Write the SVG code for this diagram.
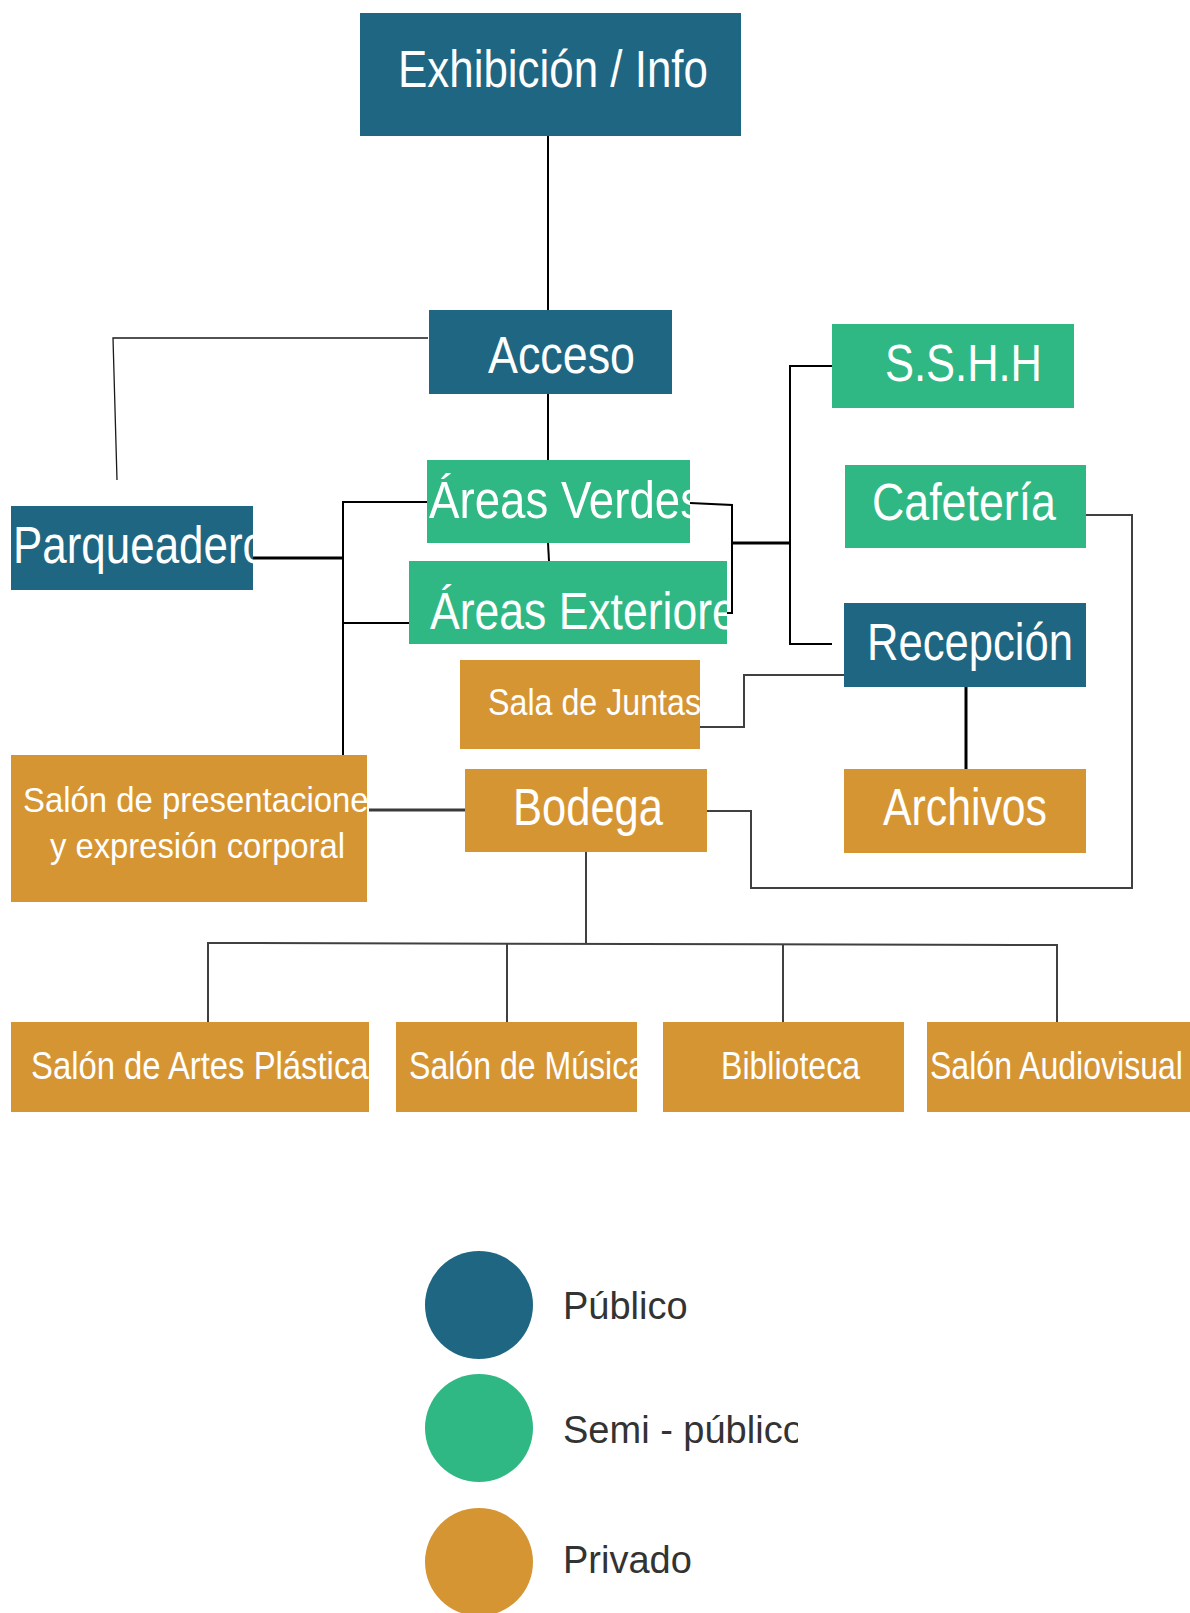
<svg xmlns="http://www.w3.org/2000/svg" width="1190" height="1613" viewBox="0 0 1190 1613">
<style>
.pub{fill:#1e6682}
.semi{fill:#2fb884}
.priv{fill:#d69533}
.t{font-family:"Liberation Sans",Arial,sans-serif;fill:#ffffff}
.big{font-size:51px}
.mid{font-size:38px}
.sm{font-size:36px}
.lg{font-family:"Liberation Sans",Arial,sans-serif;font-size:38px;fill:#333333}
.k{fill:none;stroke:#000;stroke-width:2}
.kt{fill:none;stroke:#000;stroke-width:3}
.kh{fill:none;stroke:#1a1a1a;stroke-width:1.3}
.g{fill:none;stroke:#404040;stroke-width:2}
.gt{fill:none;stroke:#3a3a3a;stroke-width:3}
</style>
<defs>
<clipPath id="cpParq"><rect x="11" y="506" width="242" height="84"/></clipPath>
<clipPath id="cpVer"><rect x="427" y="460" width="263" height="83"/></clipPath>
<clipPath id="cpExt"><rect x="409" y="561" width="318" height="83"/></clipPath>
<clipPath id="cpSala"><rect x="460" y="660" width="240" height="89"/></clipPath>
<clipPath id="cpPres"><rect x="11" y="755" width="356" height="147"/></clipPath>
<clipPath id="cpArt"><rect x="11" y="1022" width="358" height="90"/></clipPath>
<clipPath id="cpMus"><rect x="396" y="1022" width="241" height="90"/></clipPath>
<clipPath id="cpLeg"><rect x="0" y="1380" width="798" height="100"/></clipPath>
</defs>

<g id="connectors">
<line class="k" x1="548" y1="136" x2="548" y2="322"/>
<polyline class="kh" points="428,338 113,338 117,480"/>
<line class="k" x1="548" y1="394" x2="548" y2="462"/>
<line class="k" x1="548" y1="543" x2="549" y2="561"/>
<line class="kt" x1="253" y1="558" x2="343" y2="558"/>
<polyline class="k" points="427,502 343,502 343,755"/>
<line class="k" x1="343" y1="623" x2="409" y2="623"/>
<polyline class="k" points="690,503 732,505 732,613 727,613"/>
<line class="kt" x1="732" y1="543" x2="790" y2="543"/>
<polyline class="k" points="832,366 790,366 790,644 832,644"/>
<polyline class="g" points="700,727 744,727 744,675 844,675"/>
<line class="kt" x1="966" y1="687" x2="966" y2="769"/>
<polyline class="g" points="1086,515 1132,515 1132,888 751,888 751,811 707,811"/>
<line class="gt" x1="369" y1="810" x2="465" y2="810"/>
<line class="g" x1="586" y1="852" x2="586" y2="943"/>
<polyline class="g" points="208,1022 208,943 1057,945 1057,1022"/>
<line class="g" x1="507" y1="943" x2="507" y2="1022"/>
<line class="g" x1="783" y1="944" x2="783" y2="1022"/>
</g>

<g id="exhibicion">
<rect class="pub" x="360" y="13" width="381" height="123"/>
<text class="t big" x="398" y="87" textLength="310" lengthAdjust="spacingAndGlyphs">Exhibición / Info</text>
</g>
<g id="acceso">
<rect class="pub" x="429" y="310" width="243" height="84"/>
<text class="t big" x="488" y="373" textLength="147" lengthAdjust="spacingAndGlyphs">Acceso</text>
</g>
<g id="sshh">
<rect class="semi" x="832" y="324" width="242" height="84"/>
<text class="t big" x="885" y="381" textLength="157" lengthAdjust="spacingAndGlyphs">S.S.H.H</text>
</g>
<g id="areas-verdes" clip-path="url(#cpVer)">
<rect class="semi" x="427" y="460" width="263" height="83"/>
<text class="t big" x="429" y="518" textLength="274" lengthAdjust="spacingAndGlyphs">Áreas Verdes</text>
</g>
<g id="cafeteria">
<rect class="semi" x="845" y="465" width="241" height="83"/>
<text class="t big" x="872" y="520" textLength="184" lengthAdjust="spacingAndGlyphs">Cafetería</text>
</g>
<g id="parqueadero" clip-path="url(#cpParq)">
<rect class="pub" x="11" y="506" width="242" height="84"/>
<text class="t big" x="13" y="563" textLength="254" lengthAdjust="spacingAndGlyphs">Parqueadero</text>
</g>
<g id="areas-exteriores" clip-path="url(#cpExt)">
<rect class="semi" x="409" y="561" width="318" height="83"/>
<text class="t big" x="430" y="629" textLength="329" lengthAdjust="spacingAndGlyphs">Áreas Exteriores</text>
</g>
<g id="recepcion">
<rect class="pub" x="844" y="603" width="242" height="84"/>
<text class="t big" x="867" y="660" textLength="206" lengthAdjust="spacingAndGlyphs">Recepción</text>
</g>
<g id="sala-juntas" clip-path="url(#cpSala)">
<rect class="priv" x="460" y="660" width="240" height="89"/>
<text class="t" style="font-size:37px" x="488" y="715" textLength="213" lengthAdjust="spacingAndGlyphs">Sala de Juntas</text>
</g>
<g id="salon-presentaciones" clip-path="url(#cpPres)">
<rect class="priv" x="11" y="755" width="356" height="147"/>
<text class="t" style="font-size:35px" x="23" y="812" textLength="362" lengthAdjust="spacingAndGlyphs">Salón de presentaciones</text>
<text class="t" style="font-size:35px" x="50" y="858" textLength="295" lengthAdjust="spacingAndGlyphs">y expresión corporal</text>
</g>
<g id="bodega">
<rect class="priv" x="465" y="769" width="242" height="83"/>
<text class="t big" x="513" y="825" textLength="150" lengthAdjust="spacingAndGlyphs">Bodega</text>
</g>
<g id="archivos">
<rect class="priv" x="844" y="769" width="242" height="84"/>
<text class="t big" x="883" y="825" textLength="164" lengthAdjust="spacingAndGlyphs">Archivos</text>
</g>
<g id="salon-artes" clip-path="url(#cpArt)">
<rect class="priv" x="11" y="1022" width="358" height="90"/>
<text class="t mid" x="31" y="1079" textLength="354" lengthAdjust="spacingAndGlyphs">Salón de Artes Plásticas</text>
</g>
<g id="salon-musica" clip-path="url(#cpMus)">
<rect class="priv" x="396" y="1022" width="241" height="90"/>
<text class="t mid" x="409" y="1079" textLength="237" lengthAdjust="spacingAndGlyphs">Salón de Música</text>
</g>
<g id="biblioteca">
<rect class="priv" x="663" y="1022" width="241" height="90"/>
<text class="t mid" x="721" y="1079" textLength="139" lengthAdjust="spacingAndGlyphs">Biblioteca</text>
</g>
<g id="salon-audiovisual">
<rect class="priv" x="927" y="1022" width="263" height="90"/>
<text class="t mid" x="930" y="1079" textLength="253" lengthAdjust="spacingAndGlyphs">Salón Audiovisual</text>
</g>

<g id="legend">
<circle class="pub" cx="479" cy="1305" r="54"/>
<text class="lg" x="563" y="1319">Público</text>
<circle class="semi" cx="479" cy="1428" r="54"/>
<text class="lg" x="563" y="1443" clip-path="url(#cpLeg)">Semi - público</text>
<circle class="priv" cx="479" cy="1562" r="54"/>
<text class="lg" x="563" y="1573">Privado</text>
</g>
</svg>
